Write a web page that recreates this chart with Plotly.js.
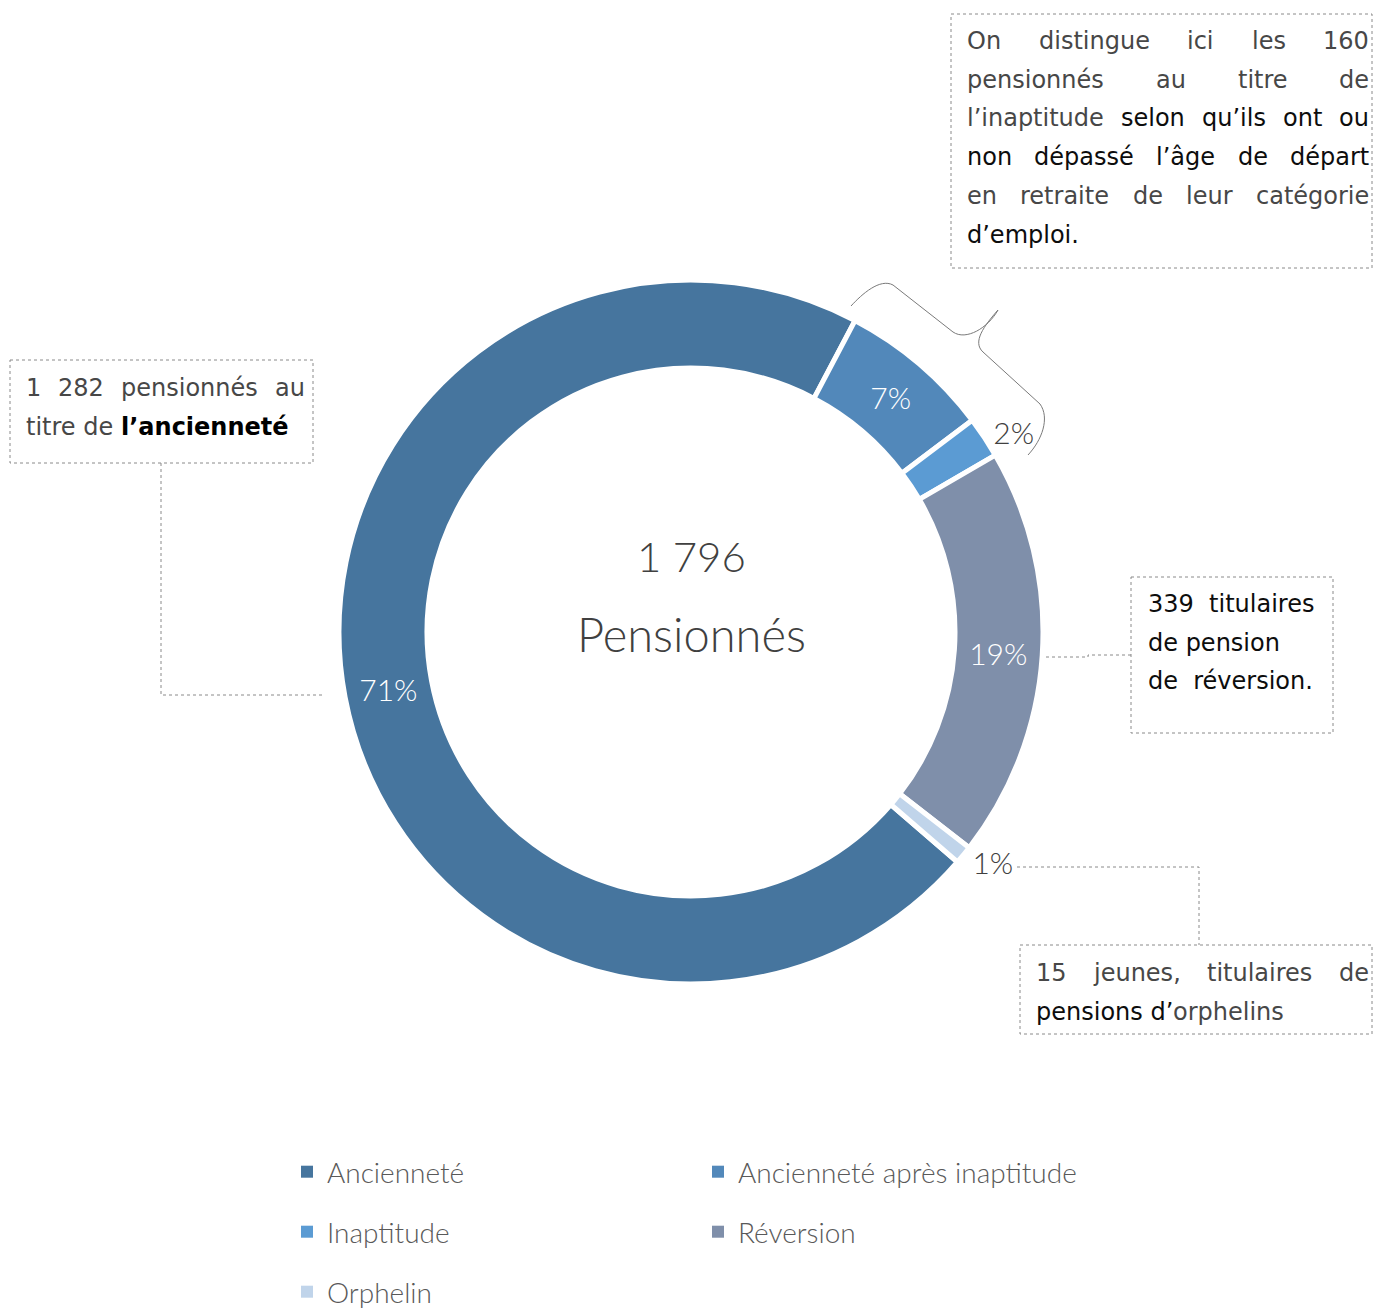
<!DOCTYPE html>
<html><head><meta charset="utf-8">
<script src="https://cdn.plot.ly/plotly-3.0.1.min.js"></script>
<style>html,body{margin:0;padding:0;background:#fff}#chart{width:1373px;height:1308px}</style>
</head><body><div id="chart"></div>
<script>
// ---- data ----
const categories = ['Ancienneté', 'Ancienneté après inaptitude', 'Inaptitude', 'Réversion', 'Orphelin'];
const pensionnes = [1282, 126, 34, 339, 15];
const sliceColors = ['#46759E', '#5288BA', '#5B9BD3', '#7F8FAA', '#C0D4EA'];
const labelPositions = ['inside', 'inside', 'outside', 'inside', 'outside'];
const totalLabel = '1 796';
const centerLabel = 'Pensionnés';

// callout texts: [segment text, style] (0 light, 1 dark, 2 bold)
const noteInaptitude = [
  [['On distingue ici les 160', 0]],
  [['pensionnés au titre de', 0]],
  [['l’inaptitude', 0], ['selon qu’ils ont ou', 1]],
  [['non dépassé l’âge de départ', 1]],
  [['en retraite de leur catégorie', 0]],
  [['d’emploi.', 1]]
];
const noteAnciennete = [
  [['1 282 pensionnés au', 0]],
  [['titre de ', 0], ['l’ancienneté', 2]]
];
const noteReversion = [
  [['339\u00A0 titulaires', 1]],
  [['de pension', 1]],
  [['de\u00A0 réversion.', 1]]
];
const noteOrphelin = [
  [['15 jeunes, titulaires de', 0]],
  [['pensions d’', 1], ['orphelins', 0]]
];

// ---- layout helpers ----
const W = 1373, H = 1308;
const cx = 691, cy = 632, R = 352, hole = 0.75;
const BOXFONT = 'DejaVu Sans';
const BOXSIZE = 24;
const styles = {
  0: {color: '#474747', weight: 'normal'},
  1: {color: '#0d0d0d', weight: 'normal'},
  2: {color: '#000000', weight: 'bold'}
};
const cvs = document.createElement('canvas');
const ctx = cvs.getContext('2d');
function measure(text, st) {
  ctx.font = (st.weight === 'bold' ? 'bold ' : '') + BOXSIZE + 'px "' + BOXFONT + '"';
  return ctx.measureText(text).width;
}
const annotations = [];
function addWord(text, st, x, y) {
  annotations.push({
    text: text, x: x, y: y, xref: 'x', yref: 'y', xanchor: 'left', yanchor: 'middle',
    showarrow: false, borderpad: 0,
    font: {family: BOXFONT, size: BOXSIZE, color: st.color, weight: st.weight === 'bold' ? 700 : 400}
  });
}
function layoutNote(lines, left, right, ys, justify) {
  lines.forEach((segs, li) => {
    const y = ys[li];
    if (justify[li]) {
      const words = [];
      segs.forEach(([t, s]) => t.trim().split(/\s+/).forEach(w => words.push([w, styles[s]])));
      const widths = words.map(([w, st]) => measure(w, st));
      const sum = widths.reduce((a, b) => a + b, 0);
      const gap = words.length > 1 ? (right - left - sum) / (words.length - 1) : 0;
      let x = left;
      words.forEach(([w, st], i) => { addWord(w, st, x, y); x += widths[i] + gap; });
    } else {
      let x = left;
      segs.forEach(([t, s]) => {
        const txt = t.replace(/ /g, '\u00A0');
        addWord(txt, styles[s], x, y);
        x += measure(txt, styles[s]);
      });
    }
  });
}
layoutNote(noteInaptitude, 966, 1368, [41, 80, 118, 157, 196, 235], [1, 1, 1, 1, 1, 0]);
layoutNote(noteAnciennete, 25, 304, [388, 427], [1, 0]);
layoutNote(noteReversion, 1147, 1330, [604, 643, 681], [0, 0, 0]);
layoutNote(noteOrphelin, 1035, 1368, [973, 1012], [1, 0]);

annotations.push({text: totalLabel, x: cx, y: 556, xref: 'x', yref: 'y', showarrow: false,
  font: {family: 'Lato', size: 42, color: '#404040', weight: 300}});
annotations.push({text: centerLabel, x: cx, y: 634, xref: 'x', yref: 'y', showarrow: false,
  font: {family: 'Lato', size: 47, color: '#404040', weight: 300}});

const dotLine = {color: '#8a8a8a', width: 1, dash: 'dot'};
const shapes = [
  {type: 'rect', x0: 951, y0: 14, x1: 1372, y1: 268, line: dotLine},
  {type: 'rect', x0: 10, y0: 360, x1: 313, y1: 463, line: dotLine},
  {type: 'rect', x0: 1131, y0: 577, x1: 1333, y1: 733, line: dotLine},
  {type: 'rect', x0: 1020, y0: 945, x1: 1372, y1: 1034, line: dotLine},
  {type: 'path', path: 'M161,463 V695 H322', line: dotLine},
  {type: 'path', path: 'M1046,657 H1088 V655 H1131', line: dotLine},
  {type: 'path', path: 'M1017,867 H1199 V945', line: dotLine},
  {type: 'path', path: 'M851,306 C862,294 880,278 893,285 L953,332 C966,341 988,328 998,310 C984,326 972,342 983,352 L1040,404 C1050,418 1042,440 1028,455',
   line: {color: '#7a7a7a', width: 1}}
].map(s => Object.assign({xref: 'x', yref: 'y', layer: 'above'}, s));

// ---- traces ----
const pie = {
  type: 'pie', labels: categories, values: pensionnes, sort: false, direction: 'clockwise',
  rotation: 130.8, hole: hole,
  domain: {x: [(cx - R) / W, (cx + R) / W], y: [1 - (cy + R) / H, 1 - (cy - R) / H]},
  marker: {colors: sliceColors, line: {color: '#ffffff', width: 5}},
  texttemplate: '%{percent:.0%}', textinfo: 'percent', textposition: labelPositions,
  insidetextorientation: 'horizontal',
  insidetextfont: {family: 'Lato', size: 30, color: '#ffffff', weight: 300},
  outsidetextfont: {family: 'Lato', size: 30, color: '#404040', weight: 300},
  showlegend: false, hoverinfo: 'none', automargin: false
};
const legendTraces = categories.map((c, i) => ({
  type: 'scatter', mode: 'markers', x: [null], y: [null], name: c,
  marker: {symbol: 'square', size: 12, color: sliceColors[i]},
  legend: ['legend', 'legend2', 'legend3'][Math.floor(i / 2)], hoverinfo: 'skip', showlegend: true
}));

const legendBase = {
  orientation: 'h', x: 287 / W, xanchor: 'left', yanchor: 'middle',
  entrywidth: 366, entrywidthmode: 'pixels', bgcolor: 'rgba(0,0,0,0)', borderwidth: 0,
  font: {family: 'Lato', size: 28, color: '#595959', weight: 300}, traceorder: 'normal'
};
const layout = {
  width: W, height: H, margin: {l: 0, r: 0, t: 0, b: 0, pad: 0, autoexpand: false},
  paper_bgcolor: '#ffffff', plot_bgcolor: 'rgba(0,0,0,0)',
  xaxis: {range: [0, W], visible: false, fixedrange: true},
  yaxis: {range: [H, 0], visible: false, fixedrange: true},
  showlegend: true,
  legend: Object.assign({}, legendBase, {y: 1 - 1172 / H}),
  legend2: Object.assign({}, legendBase, {y: 1 - 1232 / H}),
  legend3: Object.assign({}, legendBase, {y: 1 - 1292 / H}),
  annotations: annotations, shapes: shapes
};
Plotly.newPlot('chart', [pie].concat(legendTraces), layout, {displayModeBar: false, staticPlot: true});
</script></body></html>
